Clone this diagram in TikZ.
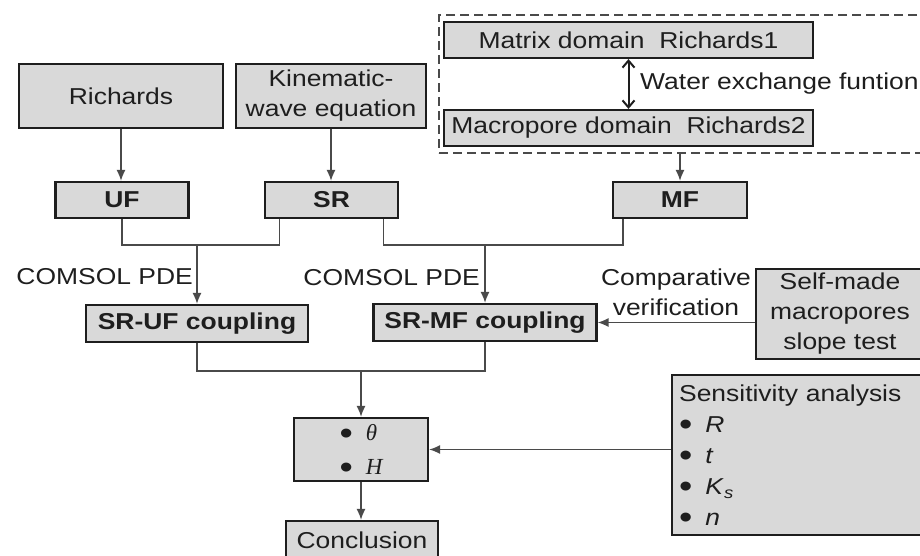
\documentclass[tikz,border=0pt]{standalone}
\usepackage{fontspec}
\setmainfont{Liberation Sans}[FakeStretch=1.15]
\newfontfamily\serifMath{Liberation Serif}
\usepackage{tikz}
\usetikzlibrary{arrows.meta, calc, positioning}
\definecolor{boxGray}{HTML}{D9D9D9}
\definecolor{lineGray}{HTML}{4A4A4A}
\definecolor{inkBlack}{HTML}{1E1E1E}
\newcommand{\figFont}{\fontsize{23}{30}\selectfont}
\tikzset{
    boxN/.style={rectangle, draw=inkBlack, fill=boxGray, line width=2.2pt, inner sep=0pt, align=center, text=inkBlack},
    boxB/.style={boxN, font=\figFont\bfseries},
    flowEdge/.style={-{Latex[length=11pt, width=9pt]}, line width=1.5pt, draw=lineGray},
    busLine/.style={line width=1.5pt, draw=lineGray},
    bidiEdge/.style={{Straight Barb[length=7pt, width=12pt]}-{Straight Barb[length=7pt, width=12pt]}, line width=2pt, draw=inkBlack},
    domainBox/.style={rectangle, draw=lineGray, dash pattern=on 9pt off 5pt, line width=1.5pt},
    note/.style={text=inkBlack, inner sep=0pt, align=center},
}
\newcommand{\busJoin}[4]{
    % two legs down to the bus, then one arrow to the target
    \draw[busLine] (#1) |- (#3) -| (#2);
    \draw[flowEdge] (#3) -- (#3 |- #4.north);
}
\newcommand{\itemDot}{\smash{\raisebox{-3.5pt}{\fontsize{33}{30}\selectfont\textbullet}}\hspace{13pt}}

\begin{document}
\begin{tikzpicture}[x=1pt, y=-1pt, font=\figFont]
        \clip (0,0) rectangle (920,555);

        % models
        \node[boxN, minimum width=204pt, minimum height=64pt] (rich) at (121,96) {Richards};
        \node[boxN, minimum width=190pt, minimum height=64pt] (kin) at (331,96) {Kinematic-\\wave equation};
        \node[domainBox, minimum width=492pt, minimum height=138pt] (dom) at (685,84) {};
        \node[boxN, minimum width=369pt, minimum height=36pt] (matrix) at (628.5,40) {Matrix domain\ \ Richards1};
        \node[boxN, minimum width=369pt, minimum height=36pt] (macro) at (628.5,128) {Macropore domain\ \ Richards2};
        \node[note, anchor=west] (wef) at (640,84) {Water exchange funtion};
        \draw[bidiEdge] (matrix) -- (macro);

        \node[boxB, minimum width=133pt, minimum height=36pt] (uf) at (122,200) {UF};
        \node[boxB, minimum width=133pt, minimum height=36pt] (sr) at (331.5,200) {SR};
        \node[boxB, minimum width=134pt, minimum height=36pt] (mf) at (680,200) {MF};
        \draw[flowEdge] (rich.south) -- (rich.south |- uf.north);
        \draw[flowEdge] (kin.south) -- (kin.south |- sr.north);
        \draw[flowEdge] (mf |- dom.south) -- (mf.north);

        % coupling
        \node[boxB, minimum width=222pt, minimum height=37pt] (srufc) at (197,323.5) {SR-UF coupling};
        \node[boxB, minimum width=223pt, minimum height=37pt] (srmfc) at (485,322.5) {SR-MF coupling};
        \coordinate (busA) at (197,245);
        \coordinate (busB) at (485,245);
        \busJoin{uf.south}{[xshift=-52pt]sr.south}{busA}{srufc}
        \busJoin{[xshift=52pt]sr.south}{[xshift=-57pt]mf.south}{busB}{srmfc}
        \node[note, anchor=east] (pdeA) at (193,277) {COMSOL PDE};
        \node[note, anchor=east] (pdeB) at (480,278) {COMSOL PDE};

        \node[boxN, minimum width=168pt, minimum height=90pt] (selfm) at (840,314) {Self-made\\macropores\\slope test};
        \draw[flowEdge] (selfm.west |- srmfc.east) -- (srmfc.east);
        \node[note] (cmpv) at (676,292) {Comparative\\verification};

        % results
        \node[boxN, minimum width=134pt, minimum height=63pt, align=left] (res) at (361,449.5) {\itemDot{\serifMath\itshape θ}\\[4pt]\itemDot{\serifMath\itshape H}};
        \coordinate (busC) at (361,371);
        \busJoin{srufc.south}{srmfc.south}{busC}{res}
        \node[boxN, minimum width=152pt, minimum height=38pt] (concl) at (362,540) {Conclusion};
        \draw[flowEdge] (res.south) -- (res.south |- concl.north);

        \node[boxN, anchor=north west, minimum height=160pt, text width=252pt, inner xsep=7pt, align=left] (sens) at (671,374) {Sensitivity analysis\\[1pt]\itemDot\textit{R}\\[1pt]\itemDot\textit{t}\\[1pt]\itemDot\textit{K}\textsubscript{\textit{s}}\\[1pt]\itemDot\textit{n}};
        \draw[flowEdge] (sens.west |- res.east) -- (res.east);

    \end{tikzpicture}
\end{document}
